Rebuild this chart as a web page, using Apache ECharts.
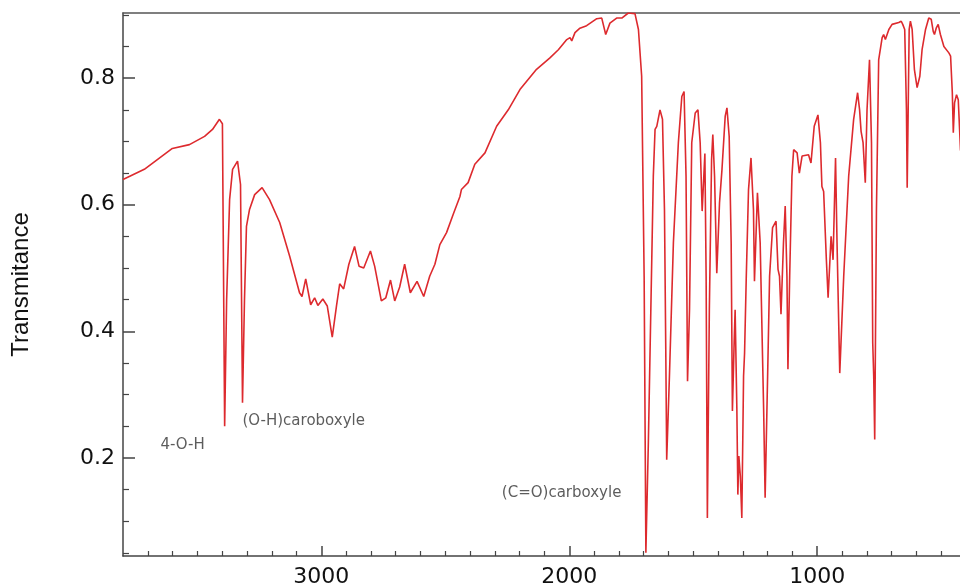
<!DOCTYPE html>
<html>
<head>
<meta charset="utf-8">
<title>IR spectrum</title>
<script src="https://cdn.jsdelivr.net/npm/echarts@6/dist/echarts.min.js"></script>
<style>
html, body { margin: 0; padding: 0; background: #fff; }
#main { width: 960px; height: 588px; }
</style>
</head>
<body>
<div id="main"></div>
<script>
// spectrum (cm-1 / transmittance)
var wavenumber = [
  3800, 3714, 3601, 3532, 3471, 3439, 3411, 3399, 3390, 3382, 3370, 3358, 3338, 3326, 3318, 3310,
  3302, 3290, 3269, 3239, 3209, 3168, 3128, 3088, 3078, 3063, 3043, 3027, 3014, 2994, 2976, 2956,
  2939, 2926, 2910, 2889, 2866, 2848, 2829, 2802, 2785, 2758, 2740, 2721, 2704, 2684, 2664, 2641,
  2614, 2587, 2563, 2542, 2522, 2495, 2468, 2441, 2435, 2408, 2381, 2340, 2293, 2246, 2199, 2132,
  2078, 2044, 2010, 1997, 1990, 1977, 1957, 1930, 1889, 1869, 1853, 1836, 1809, 1788, 1762, 1735,
  1721, 1708, 1698, 1691, 1681, 1671, 1661, 1654, 1647, 1634, 1624, 1616, 1611, 1607, 1596, 1580,
  1560, 1546, 1537, 1529, 1523, 1515, 1506, 1492, 1481, 1472, 1464, 1453, 1448, 1443, 1435, 1426,
  1421, 1414, 1405, 1394, 1384, 1371, 1364, 1355, 1347, 1342, 1335, 1331, 1324, 1320, 1316, 1310,
  1304, 1297, 1293, 1286, 1277, 1267, 1257, 1253, 1241, 1230, 1216, 1210, 1200, 1192, 1186, 1180,
  1166, 1158, 1152, 1146, 1136, 1129, 1122, 1118, 1111, 1102, 1095, 1081, 1072, 1061, 1035, 1025,
  1012, 997, 987, 981, 974, 963, 956, 944, 936, 926, 920, 909, 893, 873, 853, 837,
  829, 823, 815, 806, 799, 789, 781, 776, 772, 768, 761, 752, 738, 732, 725, 711,
  698, 671, 661, 655, 647, 640, 637, 633, 629, 624, 617, 608, 597, 586, 577, 563,
  550, 540, 532, 527, 520, 512, 503, 489, 469, 462, 455, 451, 446, 438, 431, 422,
  400
];
var transmittance = [
  0.640, 0.656, 0.689, 0.695, 0.708, 0.719, 0.735, 0.728, 0.250, 0.450, 0.608, 0.656, 0.669, 0.632, 0.287, 0.450,
  0.566, 0.592, 0.616, 0.627, 0.608, 0.572, 0.519, 0.461, 0.455, 0.483, 0.442, 0.453, 0.441, 0.451, 0.440, 0.391,
  0.440, 0.475, 0.467, 0.506, 0.534, 0.503, 0.500, 0.527, 0.503, 0.448, 0.453, 0.481, 0.448, 0.470, 0.506, 0.461,
  0.479, 0.455, 0.487, 0.506, 0.537, 0.556, 0.585, 0.613, 0.624, 0.635, 0.664, 0.682, 0.724, 0.750, 0.782, 0.814,
  0.832, 0.845, 0.861, 0.864, 0.859, 0.872, 0.879, 0.883, 0.894, 0.895, 0.869, 0.887, 0.895, 0.895, 0.903, 0.902,
  0.877, 0.803, 0.487, 0.050, 0.224, 0.434, 0.645, 0.719, 0.724, 0.750, 0.735, 0.592, 0.382, 0.197, 0.329, 0.540,
  0.698, 0.771, 0.779, 0.645, 0.321, 0.434, 0.698, 0.745, 0.750, 0.698, 0.590, 0.681, 0.487, 0.105, 0.434, 0.671,
  0.711, 0.645, 0.492, 0.603, 0.656, 0.740, 0.753, 0.708, 0.540, 0.274, 0.382, 0.434, 0.276, 0.142, 0.203, 0.171,
  0.105, 0.329, 0.365, 0.487, 0.624, 0.674, 0.592, 0.479, 0.619, 0.540, 0.276, 0.137, 0.329, 0.487, 0.490, 0.564,
  0.574, 0.498, 0.487, 0.427, 0.540, 0.598, 0.487, 0.340, 0.487, 0.645, 0.687, 0.682, 0.650, 0.677, 0.679, 0.666,
  0.724, 0.742, 0.698, 0.629, 0.621, 0.513, 0.453, 0.550, 0.513, 0.674, 0.540, 0.334, 0.487, 0.645, 0.735, 0.777,
  0.750, 0.716, 0.698, 0.635, 0.750, 0.829, 0.698, 0.382, 0.329, 0.229, 0.592, 0.829, 0.864, 0.869, 0.861, 0.877,
  0.885, 0.888, 0.890, 0.885, 0.877, 0.750, 0.627, 0.750, 0.877, 0.890, 0.877, 0.814, 0.785, 0.803, 0.845, 0.877,
  0.895, 0.893, 0.874, 0.869, 0.879, 0.885, 0.869, 0.850, 0.840, 0.835, 0.777, 0.714, 0.761, 0.774, 0.766, 0.687,
  0.640
];

// tick labels
var xLabels = [3000, 2000, 1000];
var yLabels = [0.2, 0.4, 0.6, 0.8];

// peak annotations
var peakNames = ['4-O-H', '(O-H)caroboxyle', '(C=O)carboxyle'];
var peakX = [3649, 3318, 2272];
var peakY = [0.221, 0.2575, 0.144];

// visible range (picture is cut at the right edge)
var xMin = 424, xMax = 3800;
var yMin = 0.045, yMax = 0.903;

var spectrum = [];
for (var i = 0; i < wavenumber.length; i++) {
  spectrum.push([wavenumber[i], transmittance[i]]);
}
var notes = [];
for (var j = 0; j < peakNames.length; j++) {
  notes.push([peakX[j], peakY[j], peakNames[j]]);
}

// minor ticks: every 100 cm-1 and every 0.05
var xMinor = [];
for (var w = 500; w < 3800; w += 100) {
  if (w % 1000 !== 0) xMinor.push(w);
}
var yMinor = [];
for (var k = 1; k <= 18; k++) {
  if (k % 4 !== 0) yMinor.push(Math.round(k * 5) / 100);
}

var axisColor = '#444';
var labelFont = { color: '#111', fontSize: 22, fontFamily: 'DejaVu Sans' };

var myChart = echarts.init(document.getElementById('main'));
var option = {
  animation: false,
  backgroundColor: '#fff',
  grid: { left: 123, top: 13, bottom: 31, right: 0 },
  xAxis: [
    {
      type: 'value', inverse: true, min: xMin, max: xMax, position: 'bottom',
      axisLine: { show: true, lineStyle: { color: axisColor, width: 1.5 } },
      axisTick: { show: true, inside: true, length: 10, customValues: xLabels, lineStyle: { color: axisColor, width: 1.5 } },
      axisLabel: Object.assign({
        customValues: xLabels, margin: 10,
        formatter: function (v) { return String(v); }
      }, labelFont),
      splitLine: { show: false }
    },
    {
      type: 'value', inverse: true, min: xMin, max: xMax, position: 'bottom',
      axisLine: { show: false },
      axisTick: { show: true, inside: true, length: 5, customValues: xMinor, lineStyle: { color: axisColor, width: 1.2 } },
      axisLabel: { show: false },
      splitLine: { show: false }
    },
    {
      // top frame line
      type: 'value', inverse: true, min: xMin, max: xMax, position: 'top',
      axisLine: { show: true, lineStyle: { color: '#555', width: 1.5 } },
      axisTick: { show: false },
      axisLabel: { show: false },
      splitLine: { show: false }
    }
  ],
  yAxis: [
    {
      type: 'value', min: yMin, max: yMax, position: 'left',
      name: 'Transmitance', nameLocation: 'middle', nameGap: 90, nameRotate: 90,
      nameTextStyle: { color: '#111', fontSize: 24, fontFamily: 'Liberation Sans' },
      axisLine: { show: true, lineStyle: { color: axisColor, width: 1.5 } },
      axisTick: { show: true, inside: true, length: 12, customValues: yLabels, lineStyle: { color: axisColor, width: 1.5 } },
      axisLabel: Object.assign({
        customValues: yLabels, margin: 8,
        formatter: function (v) { return v.toFixed(1); }
      }, labelFont),
      splitLine: { show: false }
    },
    {
      type: 'value', min: yMin, max: yMax, position: 'left',
      axisLine: { show: false },
      axisTick: { show: true, inside: true, length: 6, customValues: yMinor, lineStyle: { color: axisColor, width: 1.2 } },
      axisLabel: { show: false },
      splitLine: { show: false }
    }
  ],
  series: [
    {
      name: 'spectrum',
      type: 'line',
      data: spectrum,
      showSymbol: false,
      clip: true,
      lineStyle: { color: '#dd2a2e', width: 1.6 }
    },
    {
      name: 'notes',
      type: 'scatter',
      data: notes,
      symbolSize: 0,
      label: {
        show: true,
        position: [0, 0],
        align: 'left',
        verticalAlign: 'middle',
        formatter: function (p) { return p.data[2]; },
        color: '#333',
        fontSize: 15,
        fontFamily: 'DejaVu Sans'
      }
    }
  ]
};
myChart.setOption(option);
</script>
</body>
</html>
